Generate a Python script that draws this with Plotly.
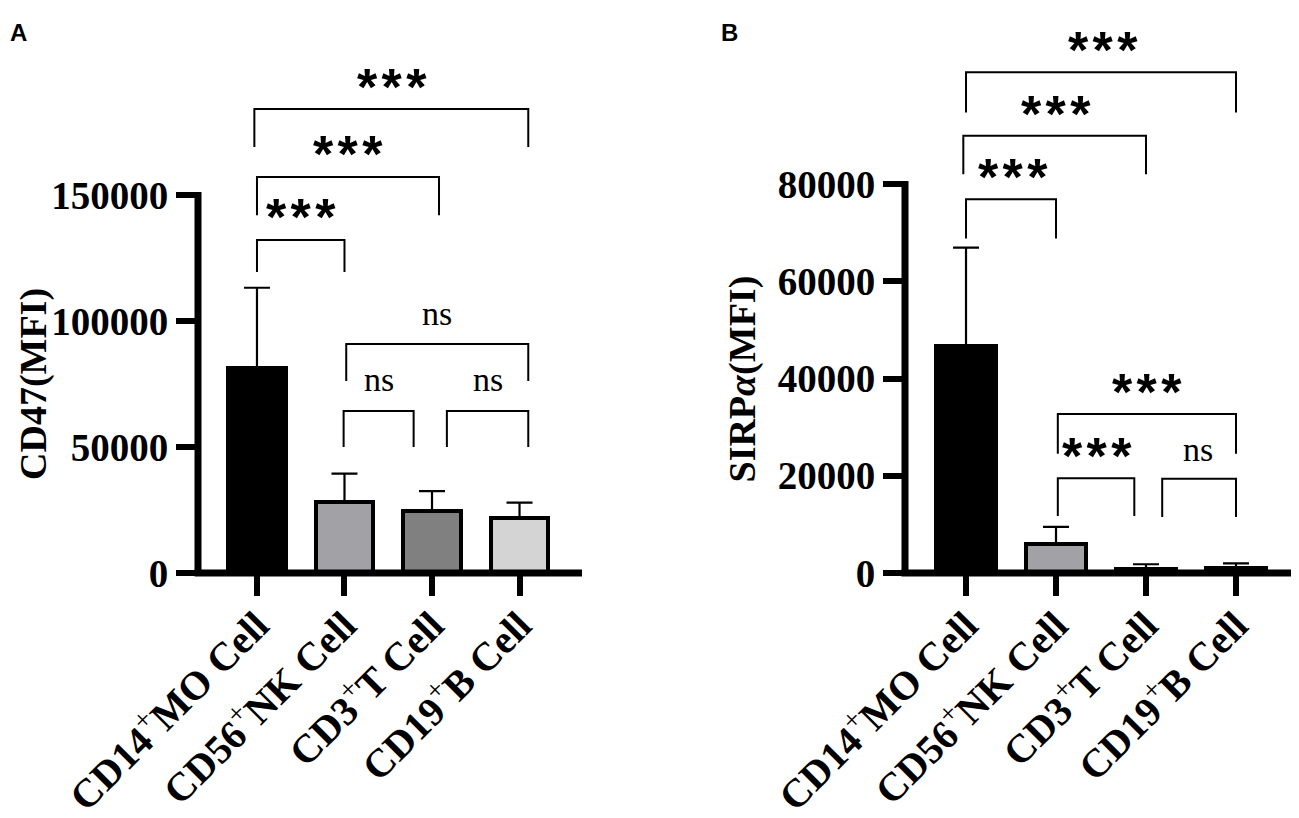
import plotly.graph_objects as go

plus = "<sup><span style='font-weight:normal'>+</span></sup>"
cells = ["CD14" + plus + "MO Cell", "CD56" + plus + "NK Cell",
         "CD3" + plus + "T Cell", "CD19" + plus + "B Cell"]
bar_colors = ["#000000", "#a1a1a6", "#808080", "#d4d4d4"]

# panel A - CD47
cd47_mean = [81400, 28300, 24500, 21700]
cd47_sd = [31800, 11100, 8000, 6200]
cd47_ticks = [0, 50000, 100000, 150000]

# significance brackets for A
cd47_x0 = [0, 0, -0.03, 1.02, 0.99, 2.17]
cd47_x1 = [1.0, 2.08, 3.10, 3.10, 1.79, 3.10]
cd47_top = [132100, 157100, 184100, 90900, 64300, 64300]
cd47_leg = [119400, 142000, 169000, 76200, 50000, 50000]
cd47_label = ["***", "***", "***", "ns", "ns", "ns"]
cd47_label_x = [0.5, 1.04, 1.54, 2.06, 1.39, 2.64]
cd47_label_y = [144800, 169800, 196400, 102800, 76600, 76600]

# panel B - SIRPa
sirpa_mean = [46600, 6000, 800, 1000]
sirpa_sd = [20300, 3500, 1000, 1000]
sirpa_ticks = [0, 20000, 40000, 60000, 80000]

sirpa_x0 = [0, -0.03, 0, 1.02, 1.02, 2.18]
sirpa_x1 = [1.0, 2.0, 3.0, 3.0, 1.87, 3.0]
sirpa_top = [76850, 89900, 103000, 32700, 19500, 19400]
sirpa_leg = [68800, 82000, 94700, 24500, 11700, 11500]
sirpa_label = ["***", "***", "***", "***", "***", "ns"]
sirpa_label_x = [0.52, 1.0, 1.52, 2.01, 1.45, 2.58]
sirpa_label_y = [83200, 96300, 109400, 39000, 26000, 25500]

serif = "Liberation Serif"
sans = "Liberation Sans"

# the page body has an 8px margin, so the figure is 8px smaller each way
W, H = 1291, 810

fig = go.Figure()
annotations = []
shapes = []


def add_panel(xa, ya, means, sds, x0s, x1s, tops, legs, labels, lx, ly):
    fig.add_trace(go.Bar(
        x=[0, 1, 2, 3], y=means, width=0.66,
        marker=dict(color=bar_colors, line=dict(color="black", width=4)),
        error_y=dict(type="data", symmetric=False, array=sds,
                     arrayminus=[0] * len(sds), color="black",
                     thickness=2.2, width=13),
        xaxis=xa, yaxis=ya, showlegend=False, hoverinfo="skip"))
    for a, b, t, l in zip(x0s, x1s, tops, legs):
        fig.add_trace(go.Scatter(
            x=[a, a, b, b], y=[l, t, t, l], mode="lines",
            line=dict(color="black", width=2),
            xaxis=xa, yaxis=ya, showlegend=False, hoverinfo="skip"))
    for txt, x, y in zip(labels, lx, ly):
        if txt == "ns":
            f = dict(family=serif, size=34, color="black")
            ys = 0
        else:
            txt = "*\u200a*\u200a*"
            f = dict(family=sans, size=52, color="black", weight="bold")
            ys = -9
        annotations.append(dict(x=x, y=y, xref=xa, yref=ya, text=txt,
                                showarrow=False, font=f, yshift=ys))


add_panel("x", "y", cd47_mean, cd47_sd, cd47_x0, cd47_x1, cd47_top,
          cd47_leg, cd47_label, cd47_label_x, cd47_label_y)
add_panel("x2", "y2", sirpa_mean, sirpa_sd, sirpa_x0, sirpa_x1, sirpa_top,
          sirpa_leg, sirpa_label, sirpa_label_x, sirpa_label_y)

# axis lines drawn by hand so the y axis stops at the last tick
for xa, ya, ymax in [("x", "y", cd47_ticks[-1]), ("x2", "y2", sirpa_ticks[-1])]:
    shapes.append(dict(type="line", xref=xa + " domain", yref=ya,
                       x0=0, x1=0, y0=0, y1=ymax * 1.008,
                       line=dict(color="black", width=7)))
    shapes.append(dict(type="line", xref=xa + " domain", yref=ya + " domain",
                       x0=-0.009, x1=1, y0=0, y1=0,
                       line=dict(color="black", width=7)))

annotations += [
    dict(text="A", x=0, y=1.024, xref="paper", yref="paper",
         xanchor="left", showarrow=False,
         font=dict(family=sans, size=24, color="black", weight="bold")),
    dict(text="B", x=711 / W, y=1.024, xref="paper", yref="paper",
         xanchor="left", showarrow=False,
         font=dict(family=sans, size=24, color="black", weight="bold")),
    dict(text="CD47(MFI)", x=25 / W, y=75000, xref="paper", yref="y",
         xanchor="center", textangle=-90, showarrow=False,
         font=dict(family=serif, size=38, color="black", weight="bold")),
    dict(text="SIRP<i>α</i>(MFI)", x=734 / W, y=40000, xref="paper",
         yref="y2", xanchor="center", textangle=-90, showarrow=False,
         font=dict(family=serif, size=38, color="black", weight="bold")),
]

xcommon = dict(tickvals=[0, 1, 2, 3], ticktext=cells, tickangle=-45,
               ticks="outside", ticklen=22, tickwidth=6, tickcolor="black",
               showline=False, showgrid=False, zeroline=False,
               automargin=False, ticklabelstandoff=-10,
               tickfont=dict(family=serif, size=40, color="black",
                             weight="bold"))
ycommon = dict(ticks="outside", ticklen=21, tickwidth=6, tickcolor="black",
               showline=False, showgrid=False, zeroline=False,
               automargin=False, ticklabelstandoff=0,
               tickfont=dict(family=serif, size=39, color="black",
                             weight="bold"))

fig.update_layout(
    width=W, height=H,
    margin=dict(l=0, r=0, t=22, b=245, autoexpand=False),
    plot_bgcolor="white", paper_bgcolor="white",
    xaxis=dict(domain=[190 / W, 574 / W], range=[-0.674, 3.714], **xcommon),
    xaxis2=dict(domain=[897 / W, 1.0], range=[-0.678, 3.7], **xcommon),
    yaxis=dict(anchor="x", range=[0, 215476], tickvals=cd47_ticks,
               ticktext=[str(v) for v in cd47_ticks], **ycommon),
    yaxis2=dict(anchor="x2", range=[0, 111671], tickvals=sirpa_ticks,
                ticktext=[str(v) for v in sirpa_ticks], **ycommon),
    annotations=annotations,
    shapes=shapes,
    bargap=0,
)

fig.write_html("out.html")
